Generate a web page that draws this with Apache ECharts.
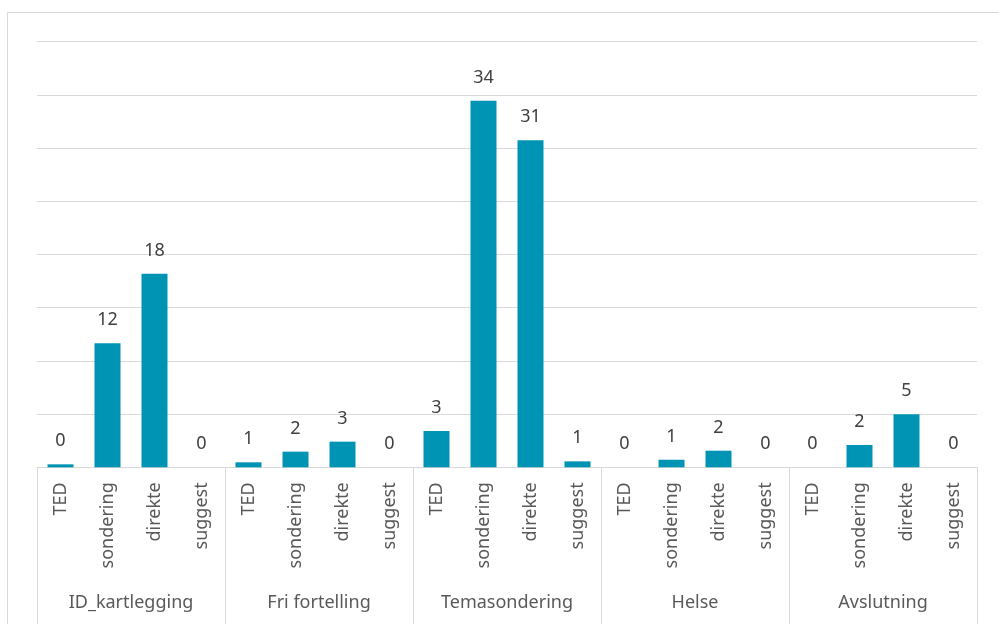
<!DOCTYPE html>
<html>
<head>
<meta charset="utf-8">
<script src="https://cdn.jsdelivr.net/npm/echarts@6/dist/echarts.min.js"></script>
<style>
  html, body { margin: 0; padding: 0; background: #fff; }
</style>
</head>
<body>
<div id="chart" style="width:999px;height:624px"></div>
<script>
  // groups and sub categories
  let groups = ['ID_kartlegging', 'Fri fortelling', 'Temasondering', 'Helse', 'Avslutning']
  let subCats = ['TED', 'sondering', 'direkte', 'suggest']

  // bar heights (axis units)
  let barID = [0.28, 11.66, 18.2, 0]
  let barFri = [0.47, 1.47, 2.41, 0]
  let barTema = [3.41, 34.45, 30.73, 0.56]
  let barHelse = [0, 0.71, 1.56, 0]
  let barAvsl = [0, 2.1, 4.98, 0]

  // numbers printed above the bars
  let labelID = [0, 12, 18, 0]
  let labelFri = [1, 2, 3, 0]
  let labelTema = [3, 34, 31, 1]
  let labelHelse = [0, 1, 2, 0]
  let labelAvsl = [0, 2, 5, 0]

  let colors = ['#0094b4', '#d9d9d9', '#404040', '#595959']
  let font = '"Noto Sans", sans-serif'

  let barRows = [barID, barFri, barTema, barHelse, barAvsl]
  let labelRows = [labelID, labelFri, labelTema, labelHelse, labelAvsl]

  let xData = []
  let seriesData = []
  groups.forEach(function (g, gi) {
    subCats.forEach(function (s, si) {
      xData.push(s)
      seriesData.push({
        value: barRows[gi][si],
        label: { formatter: String(labelRows[gi][si]) }
      })
    })
  })

  let elEchartsDom = echarts.init(document.getElementById('chart'))

  let optionData = {
    animation: false,
    textStyle: { fontFamily: font },
    grid: { left: 37, right: 22, top: 41.7, bottom: 156.7 },
    graphic: [
      {
        type: 'rect',
        shape: { x: 7.5, y: 12.5, width: 1100, height: 700 },
        style: { fill: 'none', stroke: colors[1], lineWidth: 1 },
        silent: true
      }
    ],
    xAxis: [
      {
        type: 'category',
        data: xData,
        axisLine: { lineStyle: { color: colors[1], width: 1 } },
        axisTick: { show: false },
        axisLabel: {
          interval: 0,
          rotate: 90,
          margin: 15,
          color: colors[3],
          fontSize: 18,
          fontFamily: font
        }
      },
      {
        // outer level: group names and the separators between groups
        type: 'category',
        position: 'bottom',
        data: groups,
        axisLine: { show: false },
        axisTick: {
          show: true,
          interval: 0,
          length: 170,
          lineStyle: { color: colors[1], width: 1 }
        },
        axisLabel: {
          interval: 0,
          margin: 127,
          color: colors[3],
          fontSize: 18,
          fontFamily: font
        }
      }
    ],
    yAxis: {
      type: 'value',
      min: 0,
      max: 40,
      interval: 5,
      axisLabel: { show: false },
      axisLine: { show: false },
      axisTick: { show: false },
      splitLine: { lineStyle: { color: colors[1], width: 1 } }
    },
    series: [
      {
        type: 'bar',
        xAxisIndex: 0,
        barWidth: 26,
        itemStyle: { color: colors[0] },
        label: {
          show: true,
          position: 'top',
          distance: 14,
          color: colors[2],
          fontSize: 18,
          fontFamily: font
        },
        data: seriesData
      }
    ]
  }

  elEchartsDom.setOption(optionData)
</script>
</body>
</html>
